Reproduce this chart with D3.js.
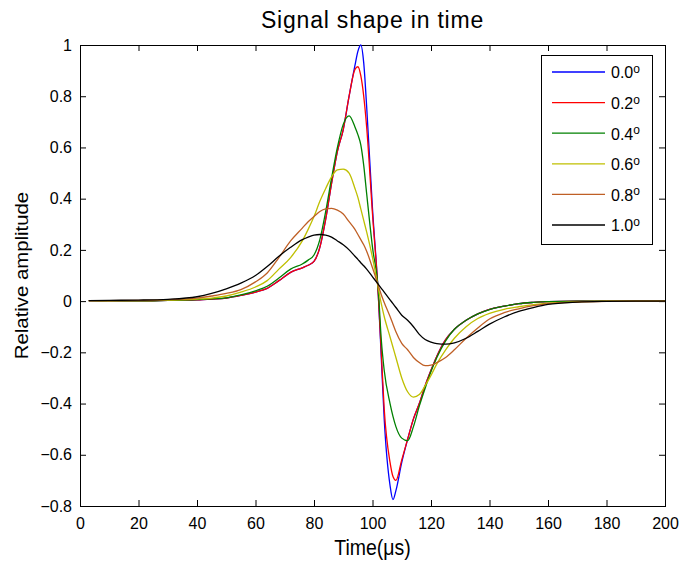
<!DOCTYPE html>
<html>
<head>
<meta charset="utf-8">
<script src="https://cdn.jsdelivr.net/npm/d3@7"></script>
<style>
  body { margin: 0; background: #fff; }
  svg { display: block; font-family: "Liberation Sans", Arial, sans-serif; }
  .axis text { font-size: 16px; fill: #000; }
  .axis line { stroke: #000; }
</style>
</head>
<body>
<svg width="682" height="565"></svg>
<script>
// time samples (µs)
var times = [3, 10, 20, 30, 40, 45, 50, 55, 60, 64, 68, 72, 76, 78, 80, 82, 84, 86, 88, 90,
  92, 94, 95, 96, 97, 98, 100, 102, 103, 104, 106, 107, 108, 110, 112, 114, 116, 118, 120, 122,
  125, 128, 132, 136, 140, 145, 150, 155, 160, 170, 180, 190, 200];

var angles = ["0.0", "0.2", "0.4", "0.6", "0.8", "1.0"];

var amp00 = [0.002, 0.002, 0.001, 0.003, 0.005, 0.008, 0.012, 0.022, 0.035, 0.05, 0.08, 0.112, 0.13, 0.14, 0.155, 0.21, 0.32, 0.46, 0.585, 0.67,
  0.80, 0.92, 0.975, 1.0, 0.93, 0.76, 0.36, 0.02, -0.22, -0.46, -0.72, -0.775, -0.74, -0.63, -0.54, -0.46, -0.40, -0.33, -0.27, -0.215,
  -0.15, -0.11, -0.075, -0.05, -0.032, -0.02, -0.01, -0.005, -0.002, 0, 0, 0, 0];

var amp02 = [0.002, 0.001, 0.001, 0.003, 0.005, 0.008, 0.012, 0.022, 0.035, 0.05, 0.08, 0.112, 0.13, 0.14, 0.155, 0.21, 0.32, 0.46, 0.585, 0.67,
  0.80, 0.905, 0.915, 0.88, 0.80, 0.68, 0.34, 0.02, -0.20, -0.42, -0.63, -0.685, -0.70, -0.62, -0.54, -0.46, -0.40, -0.33, -0.27, -0.215,
  -0.15, -0.11, -0.075, -0.05, -0.032, -0.02, -0.01, -0.005, -0.002, 0, 0, 0, 0];

var amp04 = [0.002, 0.001, 0.001, 0.003, 0.006, 0.009, 0.013, 0.024, 0.04, 0.058, 0.09, 0.125, 0.145, 0.16, 0.18, 0.24, 0.35, 0.48, 0.60, 0.69,
  0.723, 0.68, 0.65, 0.61, 0.53, 0.42, 0.21, 0.04, -0.15, -0.27, -0.40, -0.45, -0.49, -0.535, -0.545, -0.49, -0.41, -0.34, -0.275, -0.22,
  -0.155, -0.11, -0.075, -0.05, -0.033, -0.02, -0.01, -0.005, -0.002, 0, 0, 0, 0];

var amp06 = [0.002, 0.002, 0.002, 0.004, 0.008, 0.012, 0.02, 0.035, 0.055, 0.08, 0.125, 0.17, 0.235, 0.28, 0.33, 0.39, 0.44, 0.485, 0.512, 0.515,
  0.50, 0.44, 0.405, 0.36, 0.315, 0.27, 0.17, 0.05, -0.01, -0.06, -0.14, -0.18, -0.22, -0.30, -0.354, -0.375, -0.365, -0.33, -0.29, -0.245,
  -0.19, -0.145, -0.10, -0.068, -0.048, -0.032, -0.022, -0.014, -0.008, -0.003, 0, 0, 0];

var amp08 = [0.002, 0.002, 0.003, 0.006, 0.012, 0.02, 0.03, 0.045, 0.075, 0.11, 0.17, 0.235, 0.285, 0.31, 0.33, 0.35, 0.36, 0.362, 0.355, 0.34,
  0.31, 0.28, 0.26, 0.24, 0.22, 0.195, 0.13, 0.06, 0.025, -0.005, -0.06, -0.09, -0.12, -0.165, -0.19, -0.22, -0.24, -0.252, -0.25, -0.24,
  -0.22, -0.19, -0.145, -0.105, -0.07, -0.045, -0.03, -0.018, -0.01, -0.004, -0.001, 0, 0];

var amp10 = [0.002, 0.003, 0.004, 0.007, 0.017, 0.03, 0.048, 0.07, 0.1, 0.135, 0.175, 0.21, 0.24, 0.25, 0.258, 0.26, 0.258, 0.25, 0.235, 0.22,
  0.2, 0.175, 0.163, 0.15, 0.138, 0.125, 0.095, 0.065, 0.05, 0.035, 0.005, -0.01, -0.025, -0.055, -0.075, -0.1, -0.13, -0.15, -0.16, -0.166,
  -0.168, -0.163, -0.145, -0.118, -0.09, -0.062, -0.04, -0.025, -0.013, -0.004, -0.001, 0, 0];

var xTicks = [0, 20, 40, 60, 80, 100, 120, 140, 160, 180, 200];
var yTicks = [-0.8, -0.6, -0.4, -0.2, 0, 0.2, 0.4, 0.6, 0.8, 1];

var colors = ["#0000ff", "#ff0000", "#008000", "#bfbf00", "#bf5f25", "#000000"];
var series = [amp00, amp02, amp04, amp06, amp08, amp10];

var svg = d3.select("svg"),
    margin = {top: 45, right: 17, bottom: 59, left: 80},
    width = +svg.attr("width") - margin.left - margin.right,
    height = +svg.attr("height") - margin.top - margin.bottom,
    g = svg.append("g").attr("transform", "translate(" + margin.left + "," + margin.top + ")");

var x = d3.scaleLinear().domain([0, 200]).range([0, width]);
var y = d3.scaleLinear().domain([-0.8, 1]).range([height, 0]);

var fmt = function(d) { return d3.format("")(+d.toFixed(1)); };

// axes, MATLAB style: ticks inward on all four sides
g.append("g")
    .attr("class", "axis")
    .attr("transform", "translate(0," + height + ")")
    .call(d3.axisBottom(x).tickValues(xTicks).tickSize(-6).tickSizeOuter(0).tickPadding(12));

g.append("g")
    .attr("class", "axis")
    .call(d3.axisLeft(y).tickValues(yTicks).tickFormat(fmt).tickSize(-6).tickSizeOuter(0).tickPadding(8));

g.append("g")
    .attr("class", "axis")
    .call(d3.axisTop(x).tickValues(xTicks).tickFormat("").tickSize(-6).tickSizeOuter(0));

g.append("g")
    .attr("class", "axis")
    .attr("transform", "translate(" + width + ",0)")
    .call(d3.axisRight(y).tickValues(yTicks).tickFormat("").tickSize(-6).tickSizeOuter(0));

g.selectAll(".axis .domain").remove();

g.append("rect")
    .attr("width", width)
    .attr("height", height)
    .attr("fill", "none")
    .attr("stroke", "#000")
    .attr("shape-rendering", "crispEdges");

var line = d3.line()
    .x(function(d, i) { return x(times[i]); })
    .y(function(d) { return y(d); })
    .curve(d3.curveMonotoneX);

g.append("g")
  .selectAll("path")
  .data(series)
  .enter().append("path")
    .attr("d", line)
    .attr("fill", "none")
    .attr("stroke", function(d, i) { return colors[i]; })
    .attr("stroke-width", 1.3);

// title and labels
svg.append("text")
    .attr("x", margin.left + width / 2)
    .attr("y", 28)
    .attr("text-anchor", "middle")
    .attr("font-size", 23)
    .attr("letter-spacing", 0.8)
    .text("Signal shape in time");

svg.append("text")
    .attr("transform", "translate(" + (margin.left + width / 2) + ",555) scale(1,1.1)")
    .attr("text-anchor", "middle")
    .attr("font-size", 19.5)
    .text("Time(μs)");

svg.append("text")
    .attr("transform", "translate(28," + (margin.top + height / 2) + ") rotate(-90) scale(1.1,1)")
    .attr("text-anchor", "middle")
    .attr("font-size", 18.5)
    .text("Relative amplitude");

// legend
var legend = g.append("g")
    .attr("transform", "translate(" + (width - 124) + ",10)");

legend.append("rect")
    .attr("width", 111)
    .attr("height", 189)
    .attr("fill", "#fff")
    .attr("stroke", "#000")
    .attr("shape-rendering", "crispEdges");

var item = legend.selectAll(".item")
  .data(angles)
  .enter().append("g")
    .attr("class", "item")
    .attr("transform", function(d, i) { return "translate(0," + (17 + i * 30.6) + ")"; });

item.append("line")
    .attr("x1", 11)
    .attr("x2", 64)
    .attr("stroke", function(d, i) { return colors[i]; })
    .attr("stroke-width", 1.3);

var label = item.append("text")
    .attr("x", 70)
    .attr("dy", "0.4em")
    .attr("font-size", 16)
    .text(function(d) { return d; });

label.append("tspan")
    .attr("dy", "-0.45em")
    .attr("font-size", 12)
    .text("o");
</script>
</body>
</html>
